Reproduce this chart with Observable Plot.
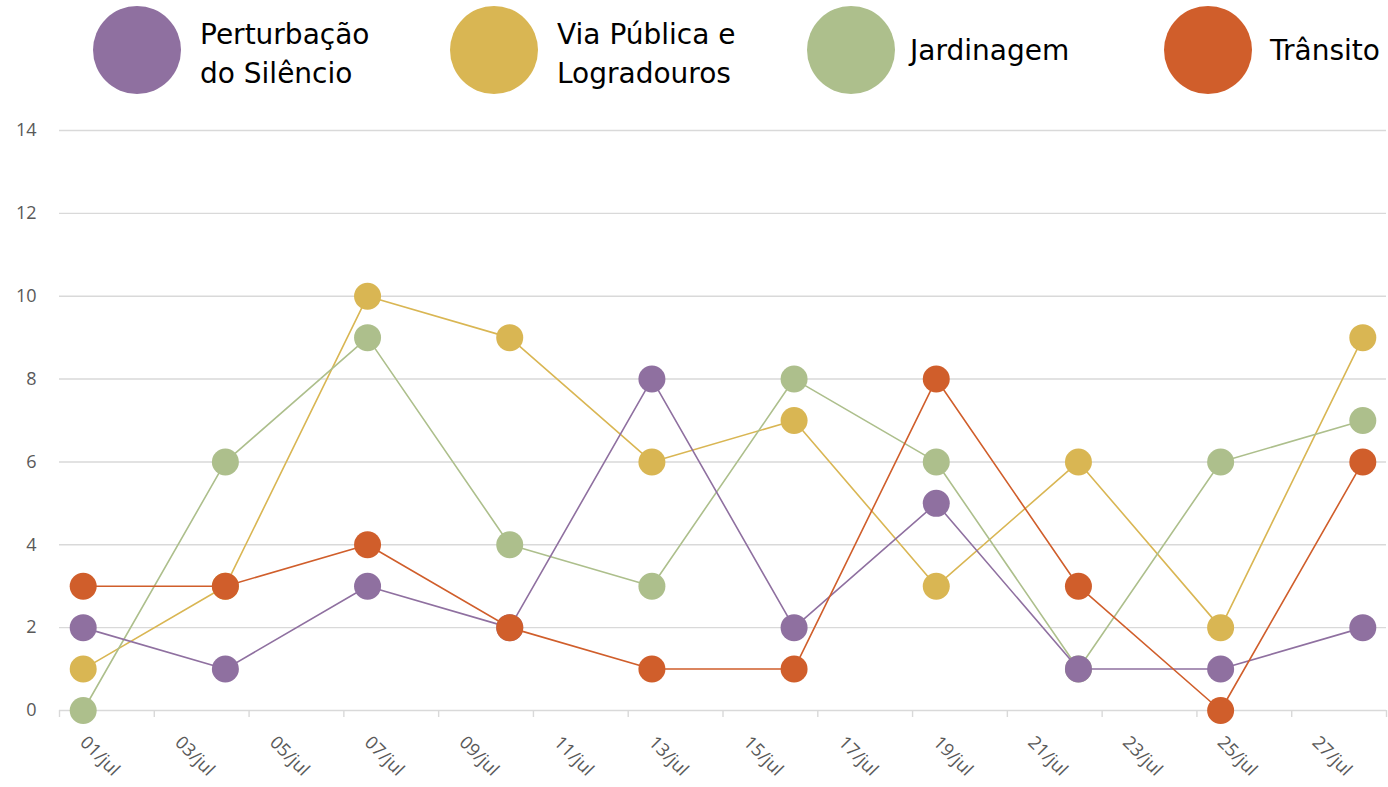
<!DOCTYPE html>
<html><head><meta charset="utf-8">
<script src="https://cdn.jsdelivr.net/npm/d3@7"></script>
<script src="https://cdn.jsdelivr.net/npm/@observablehq/plot@0.6"></script>
<style>
body{margin:0;background:#fff;}
#legend{position:relative;width:1388px;height:100px;font-family:"DejaVu Sans",sans-serif;font-size:28px;color:#000;}
.item{position:absolute;top:6px;height:88px;display:flex;align-items:center;}
.sw{width:88px;height:88px;border-radius:50%;flex:none;}
.lab{margin-left:19px;line-height:39px;}
.lab.two{padding-top:8px;}
#chart svg{display:block;}
</style></head>
<body>
<div id="legend"></div>
<div id="chart"></div>
<script>
// Data
const days = [1, 4, 7, 10, 13, 16, 19, 22, 25, 28];
const perturbacao = [2, 1, 3, 2, 8, 2, 5, 1, 1, 2];
const viaPublica = [1, 3, 10, 9, 6, 7, 3, 6, 2, 9];
const jardinagem = [0, 6, 9, 4, 3, 8, 6, 1, 6, 7];
const transito = [3, 3, 4, 2, 1, 1, 8, 3, 0, 6];
const seriesNames = ["Perturbação do Silêncio", "Via Pública e Logradouros", "Jardinagem", "Trânsito"];
const legendLabels = [["Perturbação", "do Silêncio"], ["Via Pública e", "Logradouros"], ["Jardinagem"], ["Trânsito"]];
const seriesColors = ["#8F70A0", "#D9B653", "#ADBF8C", "#D05E2B"];
const yTicks = [0, 2, 4, 6, 8, 10, 12, 14];
const xLabelDays = [1, 3, 5, 7, 9, 11, 13, 15, 17, 19, 21, 23, 25, 27];
const xTickEdges = [0.5, 2.5, 4.5, 6.5, 8.5, 10.5, 12.5, 14.5, 16.5, 18.5, 20.5, 22.5, 24.5, 26.5, 28.5];
const monthLabel = "jul";

const seriesValues = [perturbacao, viaPublica, jardinagem, transito];
const table = [];
seriesNames.forEach((s, i) => days.forEach((d, j) => table.push({series: s, day: d, value: seriesValues[i][j]})));

// Legend
const legend = document.getElementById("legend");
const legendLeft = [93, 450, 807, 1164];
const legendGap = [19, 19, 15, 18];
seriesNames.forEach((s, i) => {
  const it = document.createElement("div");
  it.className = "item";
  it.style.left = legendLeft[i] + "px";
  const sw = document.createElement("div");
  sw.className = "sw";
  sw.style.background = seriesColors[i];
  const lab = document.createElement("div");
  lab.className = "lab" + (legendLabels[i].length > 1 ? " two" : "");
  lab.style.marginLeft = legendGap[i] + "px";
  lab.innerHTML = legendLabels[i].join("<br>");
  it.appendChild(sw); it.appendChild(lab);
  legend.appendChild(it);
});

// drawing order: yellow, green, purple, orange
const drawOrder = [1, 2, 0, 3];
const seriesMarks = [];
drawOrder.forEach(i => {
  const rows = table.filter(r => r.series === seriesNames[i]);
  seriesMarks.push(Plot.line(rows, {x: "day", y: "value", stroke: seriesColors[i], strokeWidth: 1.6}));
  seriesMarks.push(Plot.dot(rows, {x: "day", y: "value", r: 13.5, fill: seriesColors[i], stroke: "none"}));
});

const fmt = d => String(d).padStart(2, "0") + "/" + monthLabel;
const axisFont = "'Open Sans', 'Noto Sans', sans-serif";

const chart = Plot.plot({
  width: 1388,
  height: 687,
  marginLeft: 59,
  marginRight: 2,
  marginTop: 30,
  marginBottom: 77,
  x: {domain: [0.5, 28.5], axis: null},
  y: {domain: [0, 14], axis: null},
  style: {fontFamily: axisFont, background: "#fff"},
  marks: [
    Plot.ruleY(yTicks, {y: d => d, stroke: "#d9d9d9", strokeWidth: 1.4}),
    Plot.axisX({ticks: xTickEdges, tickSize: 7, tickFormat: () => "", label: null, stroke: "#d9d9d9", strokeWidth: 1.4, strokeOpacity: 1}),
    Plot.text(yTicks, {y: d => d, frameAnchor: "left", dx: -23, textAnchor: "end", fontSize: 18, fill: "#595959", text: d => String(d), fontFamily: axisFont}),
    Plot.text(xLabelDays, {x: d => d, frameAnchor: "bottom", dy: 29, rotate: 45, textAnchor: "start", lineAnchor: "middle", fontSize: 18, fill: "#595959", text: fmt, fontFamily: axisFont}),
    ...seriesMarks
  ]
});
document.getElementById("chart").appendChild(chart);
</script>
</body></html>
